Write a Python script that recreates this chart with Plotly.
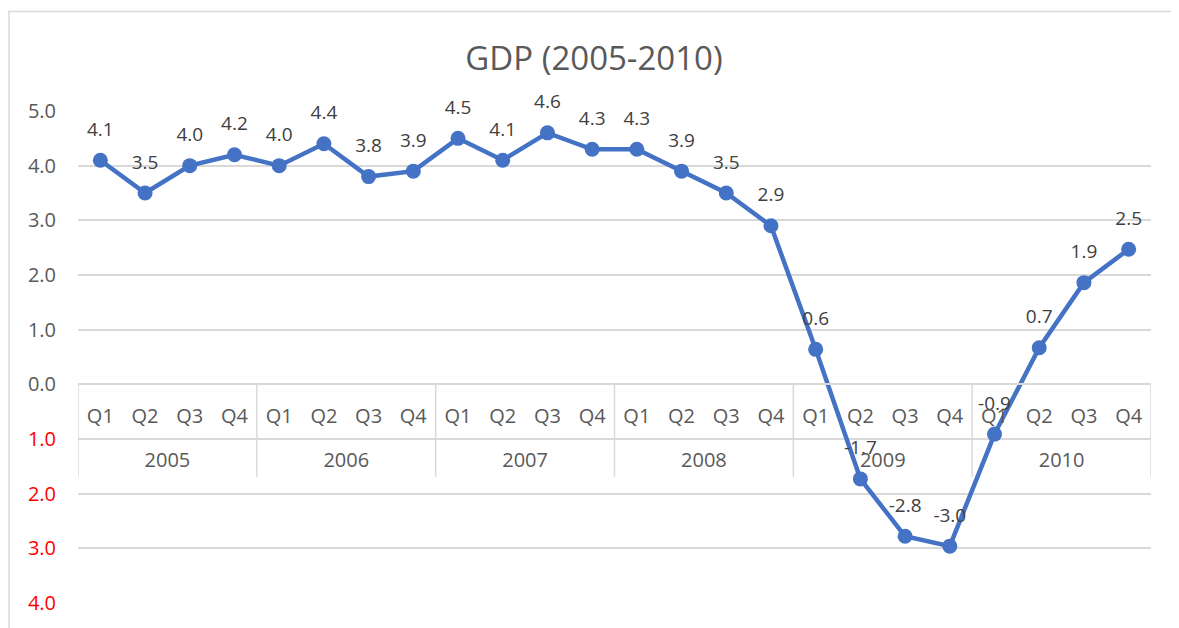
import plotly.graph_objects as go

years = ["2005", "2006", "2007", "2008", "2009", "2010"]
quarters = ["Q1", "Q2", "Q3", "Q4"]
gdp = [4.1, 3.5, 4.0, 4.2, 4.0, 4.4, 3.8, 3.9,
       4.5, 4.1, 4.6, 4.3, 4.3, 3.9, 3.5, 2.9,
       0.64, -1.73, -2.78, -2.96, -0.91, 0.67, 1.86, 2.47]
y_ticks = [5, 4, 3, 2, 1, 0, -1, -2, -3, -4]

# categories: one per (year, quarter); positions are category indices
categories = [(y, q) for y in years for q in quarters]
xpos = list(range(len(categories)))
nq = len(quarters)
year_centers = [i * nq + (nq - 1) / 2 for i in range(len(years))]
year_bounds = [i * nq - 0.5 for i in range(len(years) + 1)]

FONT = "Open Sans"
GRID = "#d9d9d9"
BLUE = "#4472C4"

tick_text = []
for v in y_ticks:
    s = f"{abs(v):.1f}"
    if v < 0:
        s = f'<span style="color:#ff0000">{s}</span>'
    tick_text.append(s)

fig = go.Figure()
fig.add_trace(go.Scatter(
    x=xpos, y=gdp,
    mode="lines+markers",
    line=dict(color=BLUE, width=4.5),
    marker=dict(color=BLUE, size=15),
    hoverinfo="skip", showlegend=False,
))
fig.add_trace(go.Scatter(
    x=xpos, y=gdp,
    mode="markers+text",
    marker=dict(size=30, opacity=0),
    text=[f"{v:.1f}" for v in gdp],
    textposition="top center",
    textfont=dict(family=FONT, size=19, color="#404040"),
    cliponaxis=False,
    hoverinfo="skip", showlegend=False,
))

# page body has an 8px margin, so the figure is drawn 8px smaller
OFF = 8
W, H = 1179 - OFF, 628 - OFF
L, R, T, B = 78, 1151, 111, 606   # plot area in reference pixels

xrange_ = [-0.5, len(categories) - 0.5]
zero_pos = (0 - y_ticks[-1]) / (y_ticks[0] - y_ticks[-1])

shapes = [
    dict(type="line", xref="paper", yref="paper",
         x0=(8 - L) / (R - L), x1=(1200 - L) / (R - L),
         y0=(B - 11) / (B - T), y1=(B - 11) / (B - T),
         line=dict(color=GRID, width=1.5)),
    dict(type="line", xref="paper", yref="paper",
         x0=(9 - L) / (R - L), x1=(9 - L) / (R - L),
         y0=(B - 11) / (B - T), y1=(B - 650) / (B - T),
         line=dict(color=GRID, width=1.5)),
]
for xb in year_bounds:
    shapes.append(dict(type="line", xref="x", yref="y", layer="below",
                       x0=xb, x1=xb, y0=0, y1=-1.69,
                       line=dict(color=GRID, width=1.5)))

fig.update_layout(
    width=W, height=H,
    margin=dict(l=L - OFF, r=1179 - R, t=T - OFF, b=628 - B),
    paper_bgcolor="white", plot_bgcolor="white",
    title=dict(text="GDP (2005-2010)", x=(594 - OFF) / W, xanchor="center",
               y=1 - (58 - OFF) / H, yanchor="middle",
               font=dict(family=FONT, size=33, color="#595959")),
    font=dict(family=FONT, color="#595959"),
    xaxis=dict(
        range=xrange_, anchor="free", position=zero_pos,
        tickmode="array", tickvals=xpos, ticktext=[q for _, q in categories],
        showline=True, linecolor=GRID, linewidth=1.5,
        showgrid=False, zeroline=False,
        ticks="", ticklabelstandoff=14,
        tickfont=dict(family=FONT, size=20, color="#595959"),
    ),
    xaxis2=dict(
        range=xrange_, overlaying="x", anchor="free", position=zero_pos,
        side="bottom",
        tickmode="array", tickvals=year_centers, ticktext=years,
        showline=False, showgrid=False, zeroline=False,
        ticks="", ticklabelstandoff=62,
        tickfont=dict(family=FONT, size=20, color="#595959"),
    ),
    yaxis=dict(
        range=[y_ticks[-1], y_ticks[0]], domain=[0, 1],
        tickvals=y_ticks, ticktext=tick_text,
        showgrid=True, gridcolor=GRID, gridwidth=1.5,
        zeroline=False, showline=False, ticks="",
        ticklabelstandoff=21,
        tickfont=dict(family=FONT, size=20, color="#595959"),
    ),
    shapes=shapes,
)
# invisible trace that activates the year-level axis (xaxis2)
fig.add_trace(go.Scatter(x=[xpos[0]], y=[None], xaxis="x2", yaxis="y",
                         mode="markers", showlegend=False, hoverinfo="skip"))

fig.write_html("out.html")
